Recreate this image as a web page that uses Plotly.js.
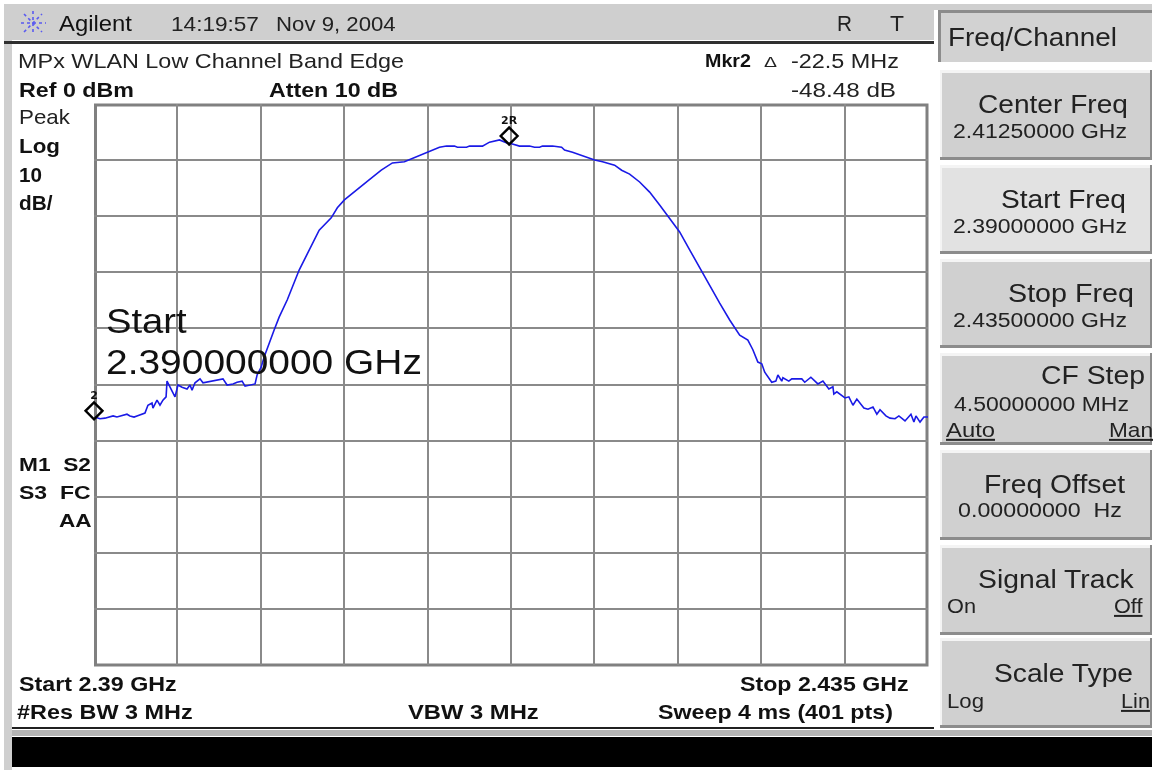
<!DOCTYPE html>
<html><head><meta charset="utf-8">
<script src="https://cdn.plot.ly/plotly-3.0.1.min.js"></script>
<style>html,body{margin:0;padding:0;background:#fff;overflow:hidden}#c{width:1156px;height:770px;filter:blur(0.45px)}</style>
</head><body><div id="c"></div>
<script>
// Trace: offset from start frequency (MHz) and level (dBm)
const startGHz = 2.39, stopGHz = 2.435;
const offsetMHz = [.05,.32,.59,.86,1.03,1.24,1.46,1.62,1.78,1.94,2.16,2.32,2.48,2.75,2.91,3.13,3.18,3.40,3.56,3.72,3.89,3.94,4.37,4.53,4.75,5.02,5.18,5.29,5.45,5.72,5.88,6.53,6.96,7.18,7.50,7.72,7.99,8.15,8.69,8.80,9.02,9.18,9.45,9.72,9.99,10.43,11.07,11.61,12.15,12.80,13.13,13.51,14.21,14.86,15.50,16.10,16.75,17.39,17.99,18.64,19.02,19.45,19.61,20.10,20.26,20.96,21.34,21.88,22.31,22.53,22.96,23.50,23.77,24.04,24.20,24.74,25.23,25.39,25.82,26.36,27.01,27.44,28.09,28.47,28.90,29.44,29.98,30.52,31.06,31.60,32.14,32.68,33.22,33.76,34.30,34.84,35.28,35.55,35.82,36.03,36.19,36.36,36.57,36.79,36.90,37.11,37.17,37.49,37.65,38.19,38.35,38.68,39.06,39.33,39.65,39.87,39.92,40.08,40.52,40.73,40.95,41.16,41.54,41.76,42.03,42.24,42.41,42.73,42.95,43.22,43.43,43.76,44.08,44.24,44.35,44.57,44.78,45];
const levelDbm = [-55.8,-56.1,-56.0,-55.8,-55.6,-55.8,-55.6,-55.4,-55.3,-55.6,-55.8,-55.6,-55.4,-55.1,-53.7,-53.3,-54.2,-52.8,-53.7,-52.8,-52.2,-49.4,-52.2,-50.1,-50.5,-50.8,-50.1,-51.0,-49.7,-49.0,-49.7,-49.2,-49.0,-50.1,-49.9,-49.6,-49.4,-50.3,-49.9,-48.3,-46.9,-45.1,-42.6,-40.3,-38.0,-34.9,-29.6,-26.0,-22.5,-20.3,-18.5,-17.1,-15.3,-13.5,-11.8,-10.5,-10.3,-9.4,-8.7,-7.7,-7.5,-7.5,-7.7,-7.7,-7.5,-7.5,-6.8,-6.4,-7.0,-7.1,-7.5,-7.5,-7.7,-7.7,-7.5,-7.5,-7.7,-8.2,-8.6,-9.3,-10.0,-10.3,-10.9,-11.8,-12.5,-13.9,-15.7,-18.0,-20.3,-22.8,-26.0,-29.2,-32.3,-35.5,-38.5,-41.2,-42.1,-43.8,-46.0,-46.3,-47.8,-48.7,-49.6,-49.4,-48.3,-49.4,-48.8,-49.4,-49.0,-49.0,-49.6,-48.7,-49.9,-49.4,-50.8,-50.4,-51.7,-51.3,-52.4,-52.2,-53.7,-52.6,-54.2,-54.4,-54.0,-55.3,-54.5,-55.6,-56.0,-56.1,-55.6,-56.5,-55.3,-56.7,-55.6,-56.7,-55.8,-55.8];
const markerGHz = [2.4124, 2.39];
const markerDbm = [-5.7, -54.7];
const markerTags = ['2R', '2'];

const W = 1156, H = 770, L = 94, R = 928, T = 104, B = 665;
const px = v => (v - L) / (R - L), py = v => 1 - (v - T) / (B - T);
const FONT = 'Liberation Sans';
const shapes = [], annotations = [], spans = [];
function rect(x0, y0, x1, y1, fill, layer) {
  shapes.push({type:'rect', xref:'paper', yref:'paper', x0:px(x0), x1:px(x1), y0:py(y0), y1:py(y1),
    fillcolor:fill, line:{width:0}, layer:layer||'below'});
}
function seg(x0, y0, x1, y1, color, width, dash) {
  shapes.push({type:'line', xref:'paper', yref:'paper', x0:px(x0), x1:px(x1), y0:py(y0), y1:py(y1),
    line:{color:color, width:width, dash:dash||'solid'}, layer:'below'});
}
// x = left edge, w = width the text spans in the reference (the screen capture is stretched sideways)
function label(text, x, w, y, size, o) {
  o = o || {};
  spans.push(w);
  annotations.push({text:o.bold ? '<b>' + text + '</b>' : text,
    xref:'paper', yref:'paper', x:px(x), y:py(y), xanchor:'left', yanchor:'middle', showarrow:false, borderpad:0,
    font:{family:FONT, size:size, color:o.color||'#222', lineposition:o.under?'under':'none'}});
}
function button(y0, y1, fill, title, tx, tw, ty) {
  rect(940, y0, 1152, y1, '#8c8c8c');
  rect(940, y0, 1150, y1-3, '#f4f4f4');
  rect(942, y0+3, 1150, y1-3, fill);
  label(title, tx, tw, ty, 25.5);
}
// Window chrome
rect(4, 4, 934, 40, '#cfcfcf');
rect(4, 40, 12, 770, '#cfcfcf');
rect(934, 4, 1152, 10, '#cfcfcf');
rect(4, 41, 934, 44, '#303030');
rect(12, 46, 934, 728, '#ffffff');
rect(12, 727, 934, 729, '#202020');
rect(12, 730, 1152, 736, '#b5b5b5');
rect(12, 737, 1152, 767, '#000000');
// Softkeys
rect(938, 10, 1152, 62, '#8c8c8c');
rect(941, 13, 1152, 62, '#d2d2d2');
label('Freq/Channel', 947, 169, 37, 25.5);
button(70, 160, '#d0d0d0', 'Center Freq', 977, 150, 104);
label('2.41250000 GHz', 952, 174, 131, 19.5);
button(165, 254, '#e2e2e2', 'Start Freq', 1000, 125, 199);
label('2.39000000 GHz', 952, 174, 226, 19.5);
button(259, 348, '#d0d0d0', 'Stop Freq', 1007, 126, 293);
label('2.43500000 GHz', 952, 174, 320, 19.5);
button(353, 445, '#d0d0d0', 'CF Step', 1040, 104, 375);
label('4.50000000 MHz', 953, 175, 404, 19.5);
label('Auto', 945, 49, 430, 20, {under:true});
label('Man', 1108, 44, 430, 20, {under:true});
button(450, 540, '#d0d0d0', 'Freq Offset', 983, 141, 484);
label('0.00000000  Hz', 957, 164, 510, 19.5);
button(545, 635, '#d0d0d0', 'Signal Track', 977, 156, 579);
label('On', 946, 29, 606, 20);
label('Off', 1113, 29, 606, 20, {under:true});
button(638, 728, '#d0d0d0', 'Scale Type', 993, 139, 673);
label('Log', 946, 37, 701, 20);
label('Lin', 1120, 29, 701, 20, {under:true});
// Header
[[33,11,33,35],[21,23,46,23],[24,14,42,32],[24,32,42,14]].forEach(s => seg(s[0],s[1],s[2],s[3],'#5a5af0',1.6,'dot'));
label('Agilent', 58, 73, 23, 22, {color:'#111'});
label('14:19:57', 170, 88, 23, 21);
label('Nov 9, 2004', 275, 120, 23, 21);
label('R', 836, 15, 23, 22);
label('T', 889, 14, 23, 22);
// Instrument annotations
label('MPx WLAN Low Channel Band Edge', 17, 386, 61, 20.5);
label('Ref 0 dBm', 18, 115, 90, 19.5, {bold:true, color:'#111'});
label('Atten 10 dB', 268, 129, 90, 19.5, {bold:true, color:'#111'});
label('Mkr2', 704, 46, 61, 19, {bold:true, color:'#111'});
label('\u0394', 763, 13, 62, 14);
label('-22.5 MHz', 790, 108, 61, 20);
label('-48.48 dB', 790, 105, 90, 20);
label('Peak', 18, 52, 117, 20);
label('Log', 18, 41, 146, 20, {bold:true, color:'#111'});
label('10', 18, 23, 175, 20, {bold:true, color:'#111'});
label('dB/', 18, 34, 203, 20, {bold:true, color:'#111'});
label('M1  S2', 18, 72, 464, 19, {bold:true, color:'#111'});
label('S3  FC', 18, 72, 492, 19, {bold:true, color:'#111'});
label('AA', 58, 33, 520, 19, {bold:true, color:'#111'});
label('Start 2.39 GHz', 18, 158, 684, 19.5, {bold:true, color:'#111'});
label('Stop 2.435 GHz', 739, 169, 684, 19.5, {bold:true, color:'#111'});
label('#Res BW 3 MHz', 16, 176, 712, 19.5, {bold:true, color:'#111'});
label('VBW 3 MHz', 407, 131, 712, 19.5, {bold:true, color:'#111'});
label('Sweep 4 ms (401 pts)', 657, 235, 712, 19.5, {bold:true, color:'#111'});
label('Start', 105, 81, 321, 35, {color:'#111'});
label('2.390000000 GHz', 105, 316, 361, 35, {color:'#111'});
// Plot frame, centred on the heavy border of the reference
shapes.push({type:'rect', xref:'paper', yref:'paper', x0:px(95.5), x1:px(927), y0:py(105), y1:py(665),
  line:{color:'#808080', width:3}, layer:'between'});

const traces = [
  {type:'scatter', mode:'lines', x:offsetMHz.map(m => startGHz + m/1000), y:levelDbm,
   line:{color:'#1a1ae6', width:1.6}, cliponaxis:false, hoverinfo:'skip'},
  {type:'scatter', mode:'markers+text', x:markerGHz, y:markerDbm, text:markerTags.map(t => '<b>'+t+'</b>'), textposition:'top center',
   textfont:{family:'DejaVu Sans', size:11, color:'#111'},
   marker:{symbol:'diamond-open', size:13, color:'#000', line:{color:'#000', width:2.4}},
   cliponaxis:false, hoverinfo:'skip'}
];
const axis = {showticklabels:false, ticks:'', showgrid:true, gridcolor:'#8a8a8a', gridwidth:2,
  showline:false, zeroline:false, fixedrange:true};
Plotly.newPlot('c', traces, {
  width:W, height:H, showlegend:false, paper_bgcolor:'#ffffff', plot_bgcolor:'#ffffff',
  margin:{l:L, r:W-R, t:T, b:H-B, pad:0},
  xaxis:Object.assign({}, axis, {range:[startGHz, stopGHz], dtick:0.0045, tick0:startGHz}),
  yaxis:Object.assign({}, axis, {range:[-100, 0], dtick:10, tick0:0}),
  shapes:shapes, annotations:annotations
}, {displayModeBar:false, staticPlot:true}).then(() => {
  document.querySelectorAll('#c .annotation').forEach(g => {
    const t = g.querySelector('text.annotation-text');
    const w = spans[+g.getAttribute('data-index')];
    if (!t || !w) return;
    t.style.transformBox = 'fill-box';
    t.style.transformOrigin = '0 50%';
    t.style.transform = 'scaleX(' + (w / t.getBBox().width).toFixed(3) + ')';
  });
});
</script></body></html>
